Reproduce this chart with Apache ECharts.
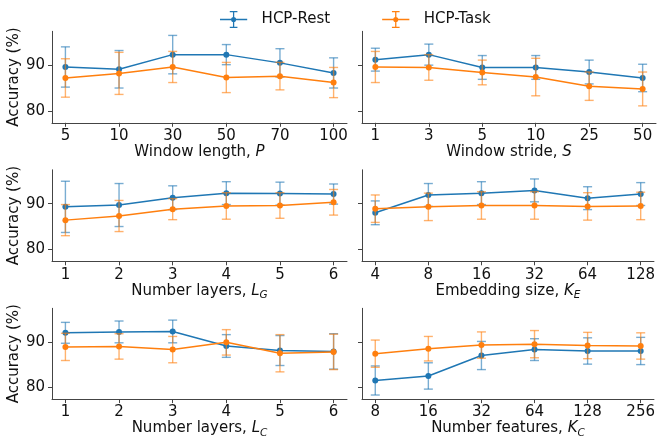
<!DOCTYPE html>
<html>
<head>
<meta charset="utf-8">
<script src="https://cdn.jsdelivr.net/npm/echarts@6/dist/echarts.min.js"></script>
<style>html,body{margin:0;padding:0;background:#fff}#c{width:658px;height:440px}</style>
</head>
<body>
<div id="c"></div>
<script>
// ---- Data ----
const seriesNames = ['HCP-Rest', 'HCP-Task'];

const windowLengthLabels = ['5', '10', '30', '50', '70', '100'];
const windowLengthRestMean = [89.6, 89.1, 92.3, 92.3, 90.5, 88.3];
const windowLengthRestErr  = [4.4, 4.1, 4.2, 2.2, 3.1, 3.3];
const windowLengthTaskMean = [87.2, 88.2, 89.6, 87.3, 87.6, 86.2];
const windowLengthTaskErr  = [4.2, 4.6, 3.4, 3.3, 3.0, 3.3];

const windowStrideLabels = ['1', '3', '5', '10', '25', '50'];
const windowStrideRestMean = [91.2, 92.3, 89.5, 89.5, 88.5, 87.2];
const windowStrideRestErr  = [2.5, 2.3, 2.6, 2.6, 2.6, 3.0];
const windowStrideTaskMean = [89.6, 89.5, 88.4, 87.4, 85.4, 84.8];
const windowStrideTaskErr  = [3.4, 2.8, 2.7, 4.1, 3.1, 3.7];

const layersGLabels = ['1', '2', '3', '4', '5', '6'];
const layersGRestMean = [89.3, 89.7, 91.3, 92.3, 92.2, 92.1];
const layersGRestErr  = [5.6, 4.7, 2.6, 2.5, 2.5, 2.2];
const layersGTaskMean = [86.4, 87.3, 88.8, 89.5, 89.6, 90.3];
const layersGTaskErr  = [3.4, 3.4, 2.3, 2.9, 2.8, 2.8];

const embedLabels = ['4', '8', '16', '32', '64', '128'];
const embedRestMean = [88.0, 91.9, 92.3, 92.9, 91.2, 92.1];
const embedRestErr  = [2.6, 2.5, 2.5, 2.5, 2.5, 2.5];
const embedTaskMean = [88.9, 89.3, 89.6, 89.6, 89.4, 89.5];
const embedTaskErr  = [3.0, 3.0, 3.0, 3.0, 3.0, 3.0];

const layersCLabels = ['1', '2', '3', '4', '5', '6'];
const layersCRestMean = [92.0, 92.2, 92.3, 89.1, 88.1, 87.9];
const layersCRestErr  = [2.3, 2.4, 2.5, 2.5, 3.3, 3.9];
const layersCTaskMean = [88.9, 89.0, 88.3, 89.9, 87.5, 87.8];
const layersCTaskErr  = [3.0, 2.8, 2.9, 2.8, 4.1, 3.9];

const featuresLabels = ['8', '16', '32', '64', '128', '256'];
const featuresRestMean = [81.5, 82.5, 87.0, 88.3, 88.0, 88.0];
const featuresRestErr  = [3.2, 2.9, 3.1, 2.4, 2.9, 3.0];
const featuresTaskMean = [87.4, 88.5, 89.3, 89.5, 89.2, 89.1];
const featuresTaskErr  = [3.0, 2.7, 2.9, 3.0, 2.9, 2.9];

const yTicks = [80, 90];

// ---- Build ----
const FONT = 'DejaVu Sans';
const COLORS = ['#1f77b4', '#ff7f0e'];
const AXIS_COLOR = '#444';

const panels = [
  {labels: windowLengthLabels, name: '{n|Window length, }{i|P}', rest: [windowLengthRestMean, windowLengthRestErr], task: [windowLengthTaskMean, windowLengthTaskErr]},
  {labels: windowStrideLabels, name: '{n|Window stride, }{i|S}', rest: [windowStrideRestMean, windowStrideRestErr], task: [windowStrideTaskMean, windowStrideTaskErr]},
  {labels: layersGLabels, name: '{n|Number layers, }{i|L}{s|G}', rest: [layersGRestMean, layersGRestErr], task: [layersGTaskMean, layersGTaskErr]},
  {labels: embedLabels, name: '{n|Embedding size, }{i|K}{s|E}', rest: [embedRestMean, embedRestErr], task: [embedTaskMean, embedTaskErr]},
  {labels: layersCLabels, name: '{n|Number layers, }{i|L}{s|C}', rest: [layersCRestMean, layersCRestErr], task: [layersCTaskMean, layersCTaskErr]},
  {labels: featuresLabels, name: '{n|Number features, }{i|K}{s|C}', rest: [featuresRestMean, featuresRestErr], task: [featuresTaskMean, featuresTaskErr]}
];

const colLeft = [52, 362];
const colWidth = [295, 294];
const rowTop = [31.3, 169.8, 308.3];
const rowHeight = 91.5;

const rich = {
  n: {fontFamily: FONT, fontSize: 15, color: '#111', verticalAlign: 'bottom', padding: [0, 0, 3, 0]},
  i: {fontFamily: FONT, fontSize: 15, color: '#111', fontStyle: 'italic', verticalAlign: 'bottom', padding: [0, 0, 3, 0]},
  s: {fontFamily: FONT, fontSize: 10.5, color: '#111', fontStyle: 'italic', verticalAlign: 'bottom', padding: [0, 0, 0, 0]}
};

const grids = [], xAxes = [], yAxes = [], series = [];

panels.forEach((p, k) => {
  const col = k % 2, row = Math.floor(k / 2);
  grids.push({left: colLeft[col], top: rowTop[row], width: colWidth[col], height: rowHeight, containLabel: false});
  const idx = p.labels.map((_, j) => j);
  xAxes.push({
    gridIndex: k, type: 'value', min: -0.25, max: 5.25,
    axisLine: {show: true, onZero: false, lineStyle: {color: AXIS_COLOR, width: 1}},
    axisTick: {show: true, customValues: idx, length: 4, lineStyle: {color: AXIS_COLOR}},
    axisLabel: {customValues: idx, formatter: v => p.labels[Math.round(v)], color: '#111', fontFamily: FONT, fontSize: 15, margin: 6},
    splitLine: {show: false},
    name: p.name, nameLocation: 'middle', nameGap: 20,
    nameTextStyle: {rich: rich}
  });
  yAxes.push({
    gridIndex: k, type: 'value', min: 77.4, max: 97.4,
    axisLine: {show: true, onZero: false, lineStyle: {color: AXIS_COLOR, width: 1}},
    axisTick: {show: true, customValues: yTicks, length: 4, lineStyle: {color: AXIS_COLOR}},
    axisLabel: {show: col === 0, customValues: yTicks, color: '#111', fontFamily: FONT, fontSize: 15, margin: 7},
    splitLine: {show: false},
    name: col === 0 ? 'Accuracy (%)' : '', nameLocation: 'middle', nameGap: 26, nameRotate: 90,
    nameTextStyle: {fontFamily: FONT, fontSize: 15, color: '#111'}
  });
  [p.rest, p.task].forEach((d, s) => {
    const [mean, err] = d;
    const color = COLORS[s];
    series.push({
      type: 'line', name: seriesNames[s], xAxisIndex: k, yAxisIndex: k,
      data: mean.map((m, j) => [j, m]),
      symbol: 'circle', symbolSize: 6, showSymbol: true,
      lineStyle: {width: 1.5, color: color}, itemStyle: {color: color},
      z: 3 + s * 2, animation: false, silent: true
    });
    series.push({
      type: 'custom', name: seriesNames[s], xAxisIndex: k, yAxisIndex: k,
      data: mean.map((m, j) => [j, m - err[j], m + err[j]]),
      encode: {x: 0, y: [1, 2]},
      itemStyle: {color: color},
      z: 2 + s * 2, animation: false, silent: true,
      renderItem: (params, api) => {
        const x = api.value(0);
        const lo = api.coord([x, api.value(1)]);
        const hi = api.coord([x, api.value(2)]);
        const cw = 4.5;
        const st = {stroke: color, lineWidth: 1.4, opacity: 0.6};
        return {type: 'group', children: [
          {type: 'line', shape: {x1: lo[0], y1: lo[1], x2: hi[0], y2: hi[1]}, style: st},
          {type: 'line', shape: {x1: lo[0] - cw, y1: lo[1], x2: lo[0] + cw, y2: lo[1]}, style: st},
          {type: 'line', shape: {x1: hi[0] - cw, y1: hi[1], x2: hi[0] + cw, y2: hi[1]}, style: st}
        ]};
      }
    });
  });
});

const ICON = 'path://M0,9.25H32V10.75H0Z M15.25,0.75H16.75V19.25H15.25Z M11.5,0H20.5V1.5H11.5Z M11.5,18.5H20.5V20H11.5Z M13,10A3,3 0 1,1 19,10A3,3 0 1,1 13,10Z';

const chart = echarts.init(document.getElementById('c'), null, {renderer: 'canvas'});
chart.setOption({
  animation: false,
  backgroundColor: '#fff',
  legend: {
    top: 6, left: 215, itemWidth: 32, itemHeight: 17, itemGap: 52,
    itemStyle: {borderWidth: 0},
    textStyle: {fontFamily: FONT, fontSize: 15, color: '#111', padding: [0, 0, 0, 7]},
    data: seriesNames.map(n => ({name: n, icon: ICON})),
    selectedMode: false
  },
  grid: grids, xAxis: xAxes, yAxis: yAxes, series: series
});
</script>
</body>
</html>
